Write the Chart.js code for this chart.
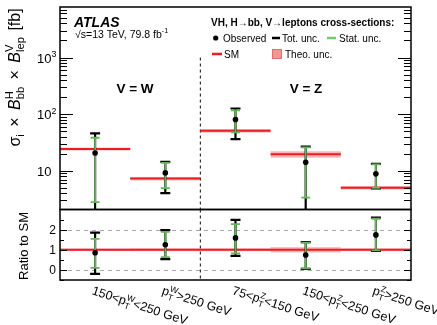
<!DOCTYPE html>
<html>
<head>
<meta charset="utf-8">
<script src="https://cdn.jsdelivr.net/npm/chart.js@4.4.0/dist/chart.umd.min.js"></script>
<style>
  html, body { margin: 0; padding: 0; background: #fff; }
  #wrap { position: relative; width: 437px; height: 325px; }
  #wrap canvas { position: absolute; left: 0; top: 0; }
</style>
</head>
<body>
<div id="wrap">
  <canvas id="main" width="437" height="325"></canvas>
  <canvas id="ratio" width="437" height="325"></canvas>
</div>
<script>
const FONT = "'Liberation Sans', Arial, Helvetica, sans-serif";

// bins: prefix, boson, suffix  ->  prefix p_T^V suffix
const binLabels = [
  ['150<', 'W', '<250 GeV'],
  ['', 'W', '>250 GeV'],
  ['75<', 'Z', '<150 GeV'],
  ['150<', 'Z', '<250 GeV'],
  ['', 'Z', '>250 GeV']
];

// upper panel, cross-section x BR [fb]
const smXsec   = [24.3, 7.3, 51, 19.6, 5.03];
const theoUnc  = [0.06, 0.07, 0.07, 0.13, 0.07];   // relative
const obsXsec  = [20.7, 9.2, 80.7, 14.2, 8.86];
const totHi    = [45.8, 14.4, 126, 26.7, 13.3];
const totLo    = [-4.9, 4.06, 36.4, 1.0, 4.9];
const statHi   = [38.4, 13.8, 117, 26.0, 13.0];
const statLo   = [2.8, 4.97, 47.8, 3.36, 5.0];

// lower panel, ratio to SM
const ratioObs    = [0.85, 1.25, 1.59, 0.74, 1.74];
const ratioTotHi  = [1.85, 1.98, 2.48, 1.38, 2.6];
const ratioTotLo  = [-0.2, 0.54, 0.7, 0.05, 0.95];
const ratioStatHi = [1.54, 1.89, 2.27, 1.36, 2.54];
const ratioStatLo = [0.1, 0.64, 0.82, 0.08, 0.97];

const logTicks   = [10, 100, 1000];
const ratioTicks = [0, 1, 2];
const ratioMinor = [-0.5, 0.5, 1.5, 2.5];
const ratioDashed = [0, 2];
const dividerAt = 2;        // boundary between W and Z bins
const dividerTop = 1000;

const SM_RED = 'rgb(235,30,35)';
const BAND = 'rgba(240,90,90,0.45)';
const GREEN = 'rgb(100,180,90)';

// draws text with sub/superscripts, returns width
function rich(ctx, parts, x, y, size, dry) {
  let cx = x;
  for (const p of parts) {
    if (typeof p === 'string') {
      ctx.font = size + 'px ' + FONT;
      if (!dry) ctx.fillText(p, cx, y);
      cx += ctx.measureText(p).width;
    } else if (p.it) {
      ctx.font = 'italic ' + size + 'px ' + FONT;
      if (!dry) ctx.fillText(p.it, cx, y);
      cx += ctx.measureText(p.it).width;
    } else if (p.gap) {
      cx += p.gap;
    } else {
      const s = size * (p.scale || 0.7);
      ctx.font = s + 'px ' + FONT;
      let w = 0;
      if (p.sup) { if (!dry) ctx.fillText(p.sup, cx, y - size * 0.42); w = Math.max(w, ctx.measureText(p.sup).width); }
      if (p.sub) { if (!dry) ctx.fillText(p.sub, cx, y + size * 0.27); w = Math.max(w, ctx.measureText(p.sub).width); }
      cx += w;
    }
  }
  return cx - x;
}

function drawBands(chart, centre, unc) {
  const { ctx, scales: { x, y } } = chart;
  ctx.save();
  ctx.fillStyle = BAND;
  centre.forEach((c, i) => {
    const x0 = x.getPixelForValue(i), x1 = x.getPixelForValue(i + 1);
    const y0 = y.getPixelForValue(c * (1 + unc[i])), y1 = y.getPixelForValue(c * (1 - unc[i]));
    ctx.fillRect(x0, y0, x1 - x0, y1 - y0);
  });
  ctx.restore();
}

function drawErrors(chart, lo, hi, color, width, cap) {
  const { ctx, chartArea: a, scales: { x, y } } = chart;
  ctx.save();
  ctx.strokeStyle = color;
  ctx.lineWidth = width;
  lo.forEach((l, i) => {
    const px = x.getPixelForValue(i + 0.5);
    const yHi = y.getPixelForValue(hi[i]);
    const out = l < y.min;
    const yLo = out ? a.bottom : y.getPixelForValue(l);
    ctx.beginPath();
    ctx.moveTo(px, yLo); ctx.lineTo(px, yHi);
    ctx.moveTo(px - cap, yHi); ctx.lineTo(px + cap, yHi);
    if (!out) { ctx.moveTo(px - cap, yLo); ctx.lineTo(px + cap, yLo); }
    ctx.stroke();
  });
  ctx.restore();
}

function drawDivider(chart, top) {
  const { ctx, chartArea: a, scales: { x } } = chart;
  const px = x.getPixelForValue(dividerAt);
  ctx.save();
  ctx.strokeStyle = '#333';
  ctx.lineWidth = 1.2;
  ctx.setLineDash([3, 3]);
  ctx.beginPath(); ctx.moveTo(px, top); ctx.lineTo(px, a.bottom); ctx.stroke();
  ctx.restore();
}

function frame(chart) {
  const { ctx, chartArea: a } = chart;
  ctx.save();
  ctx.strokeStyle = '#000';
  ctx.lineWidth = 1.5;
  ctx.strokeRect(a.left, a.top, a.right - a.left, a.bottom - a.top);
  ctx.restore();
}

const mainPlugin = {
  id: 'mainPanel',
  beforeDatasetsDraw(chart) {
    drawBands(chart, smXsec, theoUnc);
    drawDivider(chart, chart.scales.y.getPixelForValue(dividerTop));
  },
  afterDatasetDraw(chart, args) {
    if (args.index !== 1) return;
    drawErrors(chart, totLo, totHi, '#000', 2.2, 5);
    drawErrors(chart, statLo, statHi, GREEN, 1.8, 4.5);
  },
  afterDraw(chart) {
    const { ctx, chartArea: a, scales: { y } } = chart;
    // log ticks, inside, both sides
    ctx.save();
    ctx.strokeStyle = '#000';
    ctx.lineWidth = 1;
    ctx.beginPath();
    for (let e = 0; e <= 4; e++) {
      for (let m = 1; m < 10; m++) {
        const v = m * Math.pow(10, e);
        if (v < y.min || v > y.max) continue;
        const py = Math.round(y.getPixelForValue(v)) + 0.5;
        const len = m === 1 ? 13 : 7;
        ctx.moveTo(a.left, py); ctx.lineTo(a.left + len, py);
        ctx.moveTo(a.right, py); ctx.lineTo(a.right - len, py);
      }
    }
    ctx.stroke();
    ctx.restore();
    frame(chart);

    ctx.save();
    ctx.fillStyle = '#000';
    ctx.textBaseline = 'alphabetic';
    // tick labels
    logTicks.forEach(v => {
      const py = y.getPixelForValue(v) + 5;
      const ex = Math.round(Math.log10(v));
      rich(ctx, ex === 1 ? ['10'] : ['10', { sup: String(ex), scale: 0.68 }], 37, py, 13);
    });

    // y title, rotated
    const title = ['σ', { sub: 'i' }, { gap: 3 }, ' × ', { gap: 3 }, { it: 'B' }, { sup: 'H', sub: 'bb' }, { gap: 3 }, ' × ', { gap: 3 },
      { it: 'B' }, { sup: 'V', sub: 'lep' }, { gap: 2 }, ' [fb]'];
    const tw = rich(ctx, title, 0, 0, 16, true);
    ctx.save();
    ctx.translate(20, 77.5);
    ctx.rotate(-Math.PI / 2);
    rich(ctx, title, -tw / 2, 0, 16);
    ctx.restore();

    // ATLAS label
    ctx.font = 'bold italic 14px ' + FONT;
    ctx.fillText('ATLAS', 74, 27);
    rich(ctx, ['√s=13 TeV, 79.8 fb', { sup: '-1', scale: 0.68 }], 75, 37.5, 10.5);

    // region labels
    ctx.font = 'bold 13.5px ' + FONT;
    ctx.textAlign = 'center';
    ctx.fillText('V = W', 135, 93);
    ctx.fillText('V = Z', 306, 93);
    ctx.textAlign = 'left';

    // legend
    ctx.font = 'bold 10px ' + FONT;
    ctx.fillText('VH, H\u2192bb, V\u2192leptons cross-sections:', 211, 26);
    ctx.font = '10px ' + FONT;
    ctx.beginPath(); ctx.arc(215.7, 38, 2.6, 0, Math.PI * 2); ctx.fill();
    ctx.fillText('Observed', 223, 41.5);
    ctx.lineWidth = 2.5;
    ctx.strokeStyle = '#000';
    ctx.beginPath(); ctx.moveTo(272, 38); ctx.lineTo(280, 38); ctx.stroke();
    ctx.fillText('Tot. unc.', 282, 41.5);
    ctx.strokeStyle = 'rgb(120,200,110)';
    ctx.beginPath(); ctx.moveTo(327, 38); ctx.lineTo(336, 38); ctx.stroke();
    ctx.fillText('Stat. unc.', 339, 41.5);
    ctx.strokeStyle = SM_RED;
    ctx.beginPath(); ctx.moveTo(212, 54); ctx.lineTo(222, 54); ctx.stroke();
    ctx.fillText('SM', 224, 57.5);
    ctx.fillStyle = 'rgb(245,150,150)';
    ctx.fillRect(272, 49, 10, 10);
    ctx.strokeStyle = 'rgb(230,110,110)';
    ctx.lineWidth = 1;
    ctx.strokeRect(272.5, 49.5, 9, 9);
    ctx.fillStyle = '#000';
    ctx.fillText('Theo. unc.', 285, 57.5);
    ctx.restore();
  }
};

const ratioPlugin = {
  id: 'ratioPanel',
  beforeDatasetsDraw(chart) {
    const { ctx, chartArea: a, scales: { y } } = chart;
    ctx.save();
    ctx.strokeStyle = 'rgb(170,170,170)';
    ctx.lineWidth = 1;
    ctx.setLineDash([4, 4]);
    ratioDashed.forEach(v => {
      const py = Math.round(y.getPixelForValue(v)) + 0.5;
      ctx.beginPath(); ctx.moveTo(a.left, py); ctx.lineTo(a.right, py); ctx.stroke();
    });
    ctx.restore();
    drawBands(chart, smXsec.map(() => 1), theoUnc);
    drawDivider(chart, a.top);
  },
  afterDatasetDraw(chart, args) {
    if (args.index !== 1) return;
    drawErrors(chart, ratioTotLo, ratioTotHi, '#000', 2.2, 5);
    drawErrors(chart, ratioStatLo, ratioStatHi, GREEN, 1.8, 4.5);
  },
  afterDraw(chart) {
    const { ctx, chartArea: a, scales: { x, y } } = chart;
    ctx.save();
    ctx.strokeStyle = '#000';
    ctx.lineWidth = 1;
    ctx.beginPath();
    ratioTicks.concat(ratioMinor).forEach(v => {
      const py = Math.round(y.getPixelForValue(v)) + 0.5;
      const len = ratioTicks.includes(v) ? 7 : 4;
      ctx.moveTo(a.left, py); ctx.lineTo(a.left + len, py);
      ctx.moveTo(a.right, py); ctx.lineTo(a.right - len, py);
    });
    ctx.stroke();
    ctx.restore();
    frame(chart);

    ctx.save();
    ctx.fillStyle = '#000';
    ctx.font = '12px ' + FONT;
    ctx.textAlign = 'right';
    ratioTicks.forEach(v => ctx.fillText(String(v), 56, y.getPixelForValue(v) + 4.5));
    ctx.textAlign = 'left';

    // ratio title
    ctx.save();
    ctx.translate(28, 246);
    ctx.rotate(-Math.PI / 2);
    ctx.font = '13px ' + FONT;
    ctx.textAlign = 'center';
    ctx.fillText('Ratio to SM', 0, 0);
    ctx.restore();

    // bin labels, rotated
    binLabels.forEach((b, i) => {
      const px = x.getPixelForValue(i + 0.5) - 1;
      ctx.save();
      ctx.translate(px, a.bottom + 5);
      ctx.rotate(18 * Math.PI / 180);
      rich(ctx, [b[0], 'p', { sup: b[1], sub: 'T', scale: 0.68 }, b[2]], 0, 9.5, 12.5);
      ctx.restore();
    });
    ctx.restore();
  }
};

const binCentre = i => i + 0.5;

new Chart(document.getElementById('main'), {
  type: 'scatter',
  data: {
    datasets: [
      {
        data: obsXsec.map((v, i) => ({ x: binCentre(i), y: v })),
        pointRadius: 2.8, pointBackgroundColor: '#000', pointBorderWidth: 0, showLine: false
      },
      {
        type: 'line',
        data: smXsec.flatMap((v, i) => [{ x: i, y: v }, { x: i + 1, y: v }, { x: i + 1, y: null }]),
        borderColor: SM_RED, borderWidth: 2, pointRadius: 0, spanGaps: false, fill: false
      }
    ]
  },
  options: {
    responsive: false, animation: false, events: [],
    layout: { padding: { left: 60, top: 7, right: 26, bottom: 115.5 } },
    scales: {
      x: { type: 'linear', min: 0, max: 5, display: false },
      y: { type: 'logarithmic', min: 2.08, max: 7800, display: false, bounds: 'data' }
    },
    plugins: { legend: { display: false }, tooltip: { enabled: false } }
  },
  plugins: [mainPlugin]
});

new Chart(document.getElementById('ratio'), {
  type: 'scatter',
  data: {
    datasets: [
      {
        data: ratioObs.map((v, i) => ({ x: binCentre(i), y: v })),
        pointRadius: 2.8, pointBackgroundColor: '#000', pointBorderWidth: 0, showLine: false
      },
      {
        type: 'line',
        data: [{ x: 0, y: 1 }, { x: 5, y: 1 }],
        borderColor: SM_RED, borderWidth: 2, pointRadius: 0, fill: false
      }
    ]
  },
  options: {
    responsive: false, animation: false, events: [],
    layout: { padding: { left: 60, top: 209.5, right: 26, bottom: 45 } },
    scales: {
      x: { type: 'linear', min: 0, max: 5, display: false },
      y: { type: 'linear', min: -0.5, max: 3, display: false, bounds: 'data' }
    },
    plugins: { legend: { display: false }, tooltip: { enabled: false } }
  },
  plugins: [ratioPlugin]
});
</script>
</body>
</html>
